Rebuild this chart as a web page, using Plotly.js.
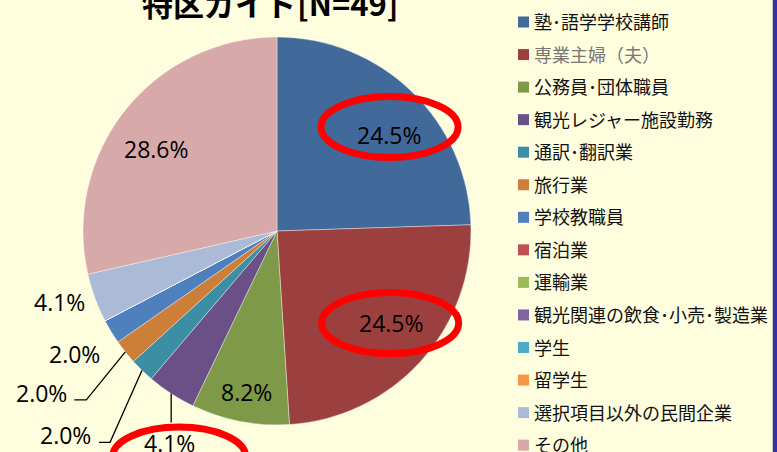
<!DOCTYPE html>
<html>
<head>
<meta charset="utf-8">
<script src="https://cdn.plot.ly/plotly-3.0.1.min.js"></script>
<style>
  html, body { margin: 0; padding: 0; background: #FEFEDF; }
  #chart { width: 777px; height: 452px; }
</style>
</head>
<body>
<div id="chart"></div>
<script>
// ---- data ----
const chartTitle = "特区ガイド[N=49]";
const categories = [
  "塾･語学学校講師", "専業主婦（夫）", "公務員･団体職員", "観光レジャー施設勤務",
  "通訳･翻訳業", "旅行業", "学校教職員", "宿泊業", "運輸業",
  "観光関連の飲食･小売･製造業", "学生", "留学生", "選択項目以外の民間企業", "その他"
];
const counts = [12, 12, 4, 2, 1, 1, 1, 0, 0, 0, 0, 0, 2, 14];
const sliceColors = [
  "#41699A", "#9C403F", "#7E9A49", "#6A5087", "#3B8EA3", "#CD7E39", "#4E80BD",
  "#C0504D", "#9BBB59", "#8064A2", "#4BACC6", "#F79646", "#AABAD7", "#D8A9A9"
];
const highlighted = [0, 1, 3];   // categories circled in red

// ---- geometry (layout only) ----
const W = 777, H = 452;
const CX = 277, CY = 231, R = 194;
const px = x => x / W;
const py = y => 1 - y / H;

const total = counts.reduce((a, b) => a + b, 0);
const pct = counts.map(v => (100 * v / total).toFixed(1) + "%");

// mid angle of each slice (deg clockwise from 12 o'clock)
const midAngle = [];
let cum = 0;
counts.forEach(v => { midAngle.push((cum + v / 2) / total * 360); cum += v; });
const polar = (deg, k) => {
  const t = deg * Math.PI / 180;
  return [CX + R * k * Math.sin(t), CY - R * k * Math.cos(t)];
};

// label placement rules (style/layout): inside, outside, or leader
const labelRule = {
  0: {k: 0.76, dx: 10, dy: 10},
  1: {k: 0.76, dx: 5, dy: -7},
  2: {k: 0.84, dx: 1, dy: 1},
  13:{k: 0.76, dx: -5, dy: 10},
  12:{k: 1.17, dx: -4, dy: -7},
  6: {k: 1.22, dx: 0, dy: 0},
  5: {leader: [[-39, 48], [-51, 48]], gap: 5},
  4: {leader: [[-32, 72], [-43, 72]], gap: 6},
  3: {leader: [[0, 29]], below: true}
};

const shapes = [];
const annotations = [];
const labelFont = {family: "Open Sans, Liberation Sans, sans-serif", size: 23, color: "#000"};
const labelPos = {};

counts.forEach((v, i) => {
  if (!v || !labelRule[i]) return;
  const r = labelRule[i];
  let x, y, xa = "center";
  if (r.leader) {
    const s = polar(midAngle[i], 1.0);
    let path = `M${px(s[0])},${py(s[1])}`;
    let last = s;
    r.leader.forEach(o => { last = [s[0] + o[0], s[1] + o[1]]; path += ` L${px(last[0])},${py(last[1])}`; });
    shapes.push({type: "path", xref: "paper", yref: "paper", path: path,
                 line: {color: "#000", width: 1.3}});
    if (r.below) { x = last[0] - 2; y = last[1] + 20; }
    else { x = last[0] - r.gap; y = last[1] - 7; xa = "right"; }
  } else {
    const p = polar(midAngle[i], r.k);
    x = p[0] + r.dx; y = p[1] + r.dy;
  }
  labelPos[i] = [x, y];
  annotations.push({xref: "paper", yref: "paper", x: px(x), y: py(y),
    xanchor: xa, yanchor: "middle", showarrow: false, text: pct[i], font: labelFont});
});

// red highlight ellipses around selected labels
const ellipseOffset = {0: [0, -8], 1: [-1, 0], 3: [10, 14]};
highlighted.forEach(i => {
  const c = labelPos[i], o = ellipseOffset[i];
  const ecx = c[0] + o[0], ecy = c[1] + o[1];
  const rx = i === 3 ? 66.5 : 68.5, ry = i === 3 ? 29.5 : 30.5;
  shapes.push({type: "circle", xref: "paper", yref: "paper",
    x0: px(ecx - rx), x1: px(ecx + rx), y0: py(ecy + ry), y1: py(ecy - ry),
    line: {color: "#FF0000", width: 7}, layer: "above"});
});

// manual legend
const legX = 518, legY0 = 21, legStep = 32.55, sq = 11;
categories.forEach((name, i) => {
  const yc = legY0 + i * legStep;
  shapes.push({type: "rect", xref: "paper", yref: "paper",
    x0: px(legX), x1: px(legX + sq), y0: py(yc + 1 + sq / 2), y1: py(yc + 1 - sq / 2),
    fillcolor: sliceColors[i], line: {width: 0}});
  annotations.push({xref: "paper", yref: "paper", x: px(legX + 14), y: py(yc),
    xanchor: "left", yanchor: "middle", showarrow: false, text: name,
    font: {family: "Noto Sans CJK JP, sans-serif", size: 18, color: i === 1 ? "#777" : "#111"}});
});

// right border bar
shapes.push({type: "rect", xref: "paper", yref: "paper", x0: px(772), x1: px(773), y0: 0, y1: 1,
             fillcolor: "#C8C8C8", line: {width: 0}});
shapes.push({type: "rect", xref: "paper", yref: "paper", x0: px(773), x1: 1, y0: 0, y1: 1,
             fillcolor: "#333399", line: {width: 0}});

// title (cut off at the top as in the reference)
annotations.push({xref: "paper", yref: "paper", x: px(270), y: py(2), xanchor: "center",
  yanchor: "middle", showarrow: false, text: "<b>" + chartTitle + "</b>",
  font: {family: "Noto Sans CJK JP, sans-serif", size: 31, color: "#000"}});

const trace = {
  type: "pie",
  labels: categories,
  values: counts,
  sort: false,
  direction: "clockwise",
  rotation: 0,
  textinfo: "none",
  hoverinfo: "label+percent",
  marker: {colors: sliceColors, line: {color: "rgba(255,255,255,0.55)", width: 0.7}},
  domain: {x: [px(CX - R), px(CX + R)], y: [py(CY + R), py(CY - R)]},
  showlegend: false
};

const layout = {
  width: W, height: H, autosize: false,
  margin: {l: 0, r: 0, t: 0, b: 0},
  paper_bgcolor: "#FEFEDF",
  plot_bgcolor: "#FEFEDF",
  showlegend: false,
  shapes: shapes,
  annotations: annotations
};

Plotly.newPlot("chart", [trace], layout, {displayModeBar: false, staticPlot: true});
</script>
</body>
</html>
